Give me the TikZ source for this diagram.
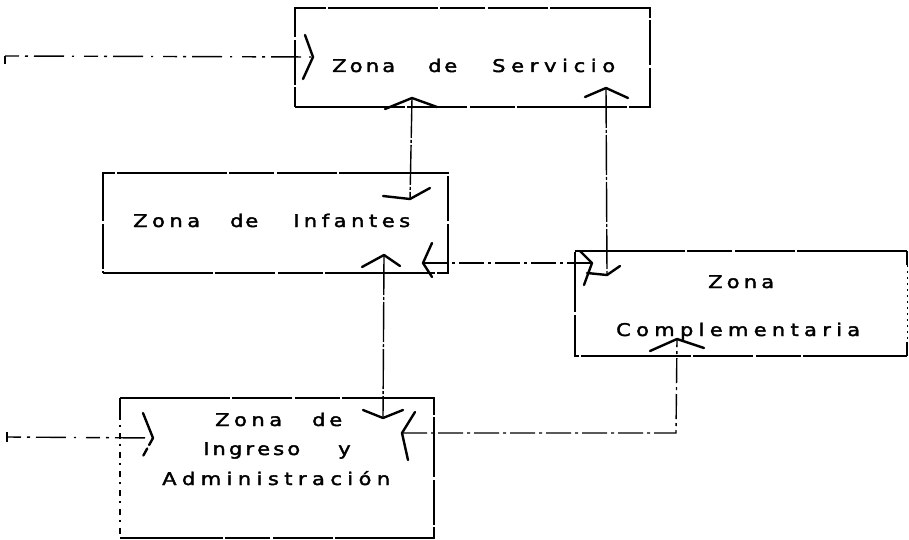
\documentclass[tikz,border=0pt]{standalone}
\usepackage{fontspec}
\newfontfamily\zf[FakeStretch=1.2,FakeBold=2.2]{DejaVu Sans}
\usetikzlibrary{calc}
\newcommand\zword[2]{\makebox[#1pt][s]{#2}}
\begin{document}
\begin{tikzpicture}[x=1pt,y=-1pt,
  zbox/.style={draw,line width=2.4pt,inner sep=0pt,
    dash pattern=on 110pt off 2pt on 60pt off 3pt on 45pt off 2pt},
  zarea/.style={inner sep=0pt},
  edge/.style={line width=2.4pt,dash pattern=on 110pt off 2pt on 60pt off 3pt on 45pt off 2pt},
  faint/.style={line width=1pt,dash pattern=on 2pt off 4pt},
  conn/.style={line width=1.4pt,dash pattern=on 40pt off 2pt on 3pt off 2pt},
  hconn/.style={line width=1.4pt,dash pattern=on 25pt off 4pt on 3pt off 4pt},
  entry/.style={line width=1.4pt,dash pattern=on 14pt off 6pt on 3pt off 6pt on 30pt off 8pt on 2pt off 10pt},
  head/.style={line width=2.4pt,line cap=round,line join=round},
  lbl/.style={font=\zf\fontsize{17.5}{21}\selectfont,anchor=base west,inner sep=0pt}]
\useasboundingbox (0,0) rectangle (909,540);
\fill[white] (0,0) rectangle (909,540);

% boxes
\node[zbox,minimum width=355pt,minimum height=99pt] (serv) at (472.5,57.5) {};
\node[zbox,minimum width=345pt,minimum height=100pt] (inf) at (275.5,223) {};
\node[zarea,minimum width=332pt,minimum height=105pt] (comp) at (741,303.5) {};
\node[zarea,minimum width=314pt,minimum height=140pt] (ing) at (277,468) {};

\draw[edge] (comp.north east) -- (comp.north west) -- (comp.south west) -- (comp.south east);
\draw[line width=2.4pt] (comp.north east) -- ++(0,14);
\draw[line width=2.4pt] (comp.south east) -- ++(0,-14);
\draw[faint] ($(comp.north east)+(0,14)$) -- ($(comp.south east)+(0,-14)$);

\draw[edge] (ing.north west) -- (ing.north east) -- (ing.south east) -- (ing.south west);
\draw[line width=2.4pt] (ing.north west) -- ++(0,16);
\draw[line width=1.5pt,dash pattern=on 6pt off 5pt on 2pt off 6pt] ($(ing.north west)+(0,16)$) -- (ing.south west);

% texts (word by word, letter-spaced)
\node[lbl] (ts1) at (332,72) {\zword{63}{Z\hfill o\hfill n\hfill a}};
\node[lbl] (ts2) at (428,72) {\zword{29}{d\hfill e}};
\node[lbl] (ts3) at (492,72) {\zword{123}{S\hfill e\hfill r\hfill v\hfill i\hfill c\hfill i\hfill o}};

\node[lbl] (ti1) at (133,227) {\zword{67}{Z\hfill o\hfill n\hfill a}};
\node[lbl] (ti2) at (230,227) {\zword{28}{d\hfill e}};
\node[lbl] (ti3) at (293,227) {\zword{117}{I\hfill n\hfill f\hfill a\hfill n\hfill t\hfill e\hfill s}};

\node[lbl] (tc1) at (708,288) {\zword{66}{Z\hfill o\hfill n\hfill a}};
\node[lbl] (tc2) at (616,336) {\zword{244}{C\hfill o\hfill m\hfill p\hfill l\hfill e\hfill m\hfill e\hfill n\hfill t\hfill a\hfill r\hfill i\hfill a}};

\node[lbl] (tg1) at (215,426) {\zword{67}{Z\hfill o\hfill n\hfill a}};
\node[lbl] (tg2) at (312,426) {\zword{30}{d\hfill e}};
\node[lbl] (tg3) at (203,455) {\zword{97}{I\hfill n\hfill g\hfill r\hfill e\hfill s\hfill o}};
\node[lbl] (tg4) at (338,455) {y};
\node[lbl] (tg5) at (162,485) {\zword{228}{A\hfill d\hfill m\hfill i\hfill n\hfill i\hfill s\hfill t\hfill r\hfill a\hfill c\hfill i\hfill ó\hfill n}};

% connector end points
\coordinate (e1s) at (5,56);
\coordinate (e1t) at (313,57);
\coordinate (sa) at (412,98);
\coordinate (ia) at (410,199);
\coordinate (sb) at (606,88);
\coordinate (ca) at (607,275);
\coordinate (ib) at (423,263);
\coordinate (cb) at (592,263);
\coordinate (ic) at (384,255);
\coordinate (ga) at (383,418);
\coordinate (gb) at (402,433);
\coordinate (bend) at (676,433);
\coordinate (cc) at (677,339);
\coordinate (e2s) at (7,437);
\coordinate (e2t) at (153,438);

% connectors
\draw[entry] (e1s) -- (e1t);
\draw[line width=1.6pt] (e1s) -- ++(0,8);
\draw[conn] (sa) -- (ia);
\draw[conn] (sb) -- (ca);
\draw[hconn] (ib) -- (cb);
\draw[conn] (ic) -- (ga);
\draw[hconn] (gb) -- (bend) -- (cc);
\draw[entry] (e2s) -- (e2t);
\draw[line width=1.4pt] ($(e2s)+(0,-5)$) -- ($(e2s)+(0,5)$);

% arrow heads
\draw[head] ($(e1t)+(-8,-22)$) -- (e1t) -- ($(e1t)+(-10,22)$);
\draw[head] ($(sa)+(-27,11)$) -- (sa) -- ($(sa)+(25,9)$);
\draw[head] ($(ia)+(-27,-3)$) -- (ia) -- ($(ia)+(20,-11)$);
\draw[head] ($(sb)+(-21,9)$) -- (sb) -- ($(sb)+(22,10)$);
\draw[head] ($(ca)+(-20,-2)$) -- (ca) -- ($(ca)+(13,-9)$);
\draw[head] ($(ib)+(9,-20)$) -- (ib) -- ($(ib)+(9,14)$);
\draw[head] ($(cb)+(-12,-12)$) -- (cb) -- ($(cb)+(-8,22)$);
\draw[head] ($(ic)+(-22,12)$) -- (ic) -- ($(ic)+(16,11)$);
\draw[head] ($(ga)+(-20,-8)$) -- (ga) -- ($(ga)+(20,-8)$);
\draw[head] ($(gb)+(13,-21)$) -- (gb) -- ($(gb)+(6,27)$);
\draw[head] ($(cc)+(-27,12)$) -- (cc) -- ($(cc)+(27,9)$);
\draw[head] ($(e2t)+(-10,-25)$) -- (e2t);
\draw[head,dash pattern=on 8pt off 4pt] (e2t) -- ($(e2t)+(-11,20)$);
\end{tikzpicture}
\end{document}
